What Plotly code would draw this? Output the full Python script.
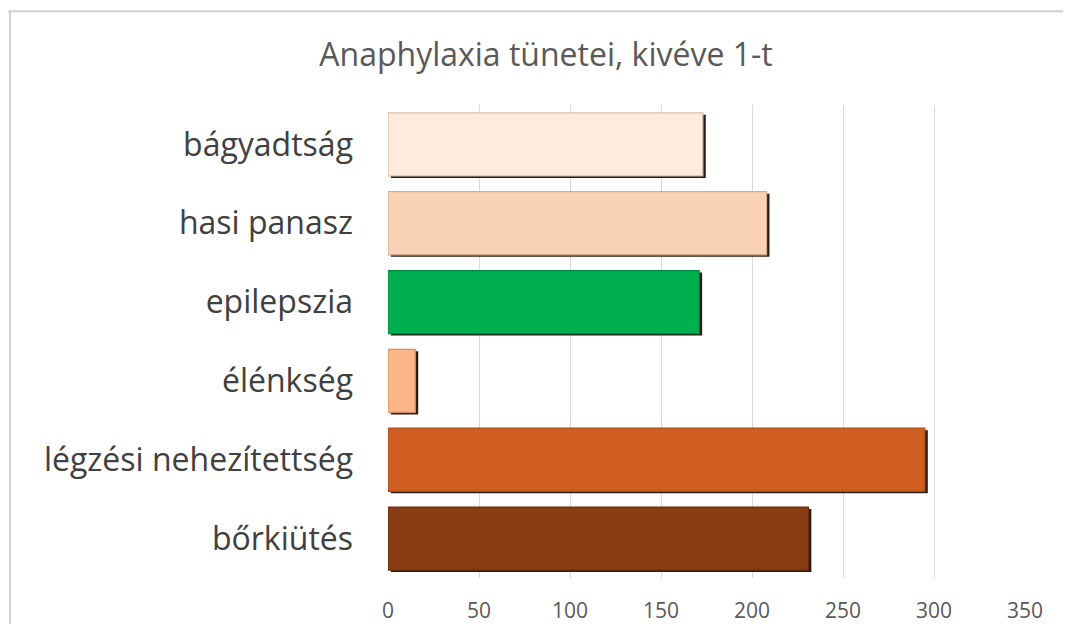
import plotly.graph_objects as go

categories = ["bágyadtság", "hasi panasz", "epilepszia", "élénkség", "légzési nehezítettség", "bőrkiütés"]
values = [173, 208, 171, 15, 295, 231]
colors = ["#FDEBDD", "#FAD2B6", "#00B050", "#FBB586", "#D05E21", "#8A3C14"]
edge_colors = ["#D9BFB0", "#D7AC90", "#008A3E", "#D89062", "#A84A18", "#6A2C0E"]
tick_vals = [0, 50, 100, 150, 200, 250, 300, 350]

W, H = 1055, 628
L, R, T, B = 380, 38, 97, 47
PW, PH = W - L - R, H - T - B

fig = go.Figure()
# shadow layer
fig.add_trace(go.Bar(
    y=categories, x=values, orientation="h", base=1.6,
    width=0.8, offset=-0.375,
    marker=dict(color="#2B1D14", line=dict(width=0)),
    hoverinfo="skip", showlegend=False,
))
fig.add_trace(go.Bar(
    y=categories, x=values, orientation="h",
    width=0.8, offset=-0.4,
    marker=dict(color=colors, line=dict(color=edge_colors, width=1.2)),
    showlegend=False,
))

fig.update_layout(
    width=W, height=H,
    barmode="overlay",
    paper_bgcolor="white", plot_bgcolor="white",
    margin=dict(l=L, r=R, t=T, b=B),
    title=dict(text="Anaphylaxia tünetei, kivéve 1-t", x=538 / W, xanchor="center",
               y=1 - 47 / H, yanchor="middle",
               font=dict(family="Open Sans", size=32, color="#595959")),
    xaxis=dict(range=[0, 350], tickvals=tick_vals, showgrid=True, gridcolor="#D9D9D9",
               gridwidth=1.3, zeroline=False, showline=False, ticks="",
               tickfont=dict(family="Open Sans", size=21, color="#595959"), ticklabelstandoff=18),
    yaxis=dict(autorange="reversed", showgrid=False, showline=False, ticks="",
               tickfont=dict(family="Open Sans", size=32, color="#404040"), ticklabelstandoff=34),
    shapes=[
        dict(type="line", xref="paper", yref="paper", x0=-L / PW, x1=(W - L) / PW,
             y0=1 + (T - 1) / PH, y1=1 + (T - 1) / PH, line=dict(color="#D0D0D0", width=2)),
        dict(type="line", xref="paper", yref="paper", x0=-(L - 2) / PW, x1=-(L - 2) / PW,
             y0=1 + (T - 1) / PH, y1=-B / PH, line=dict(color="#D0D0D0", width=2)),
    ],
)

fig.write_html("out.html")
